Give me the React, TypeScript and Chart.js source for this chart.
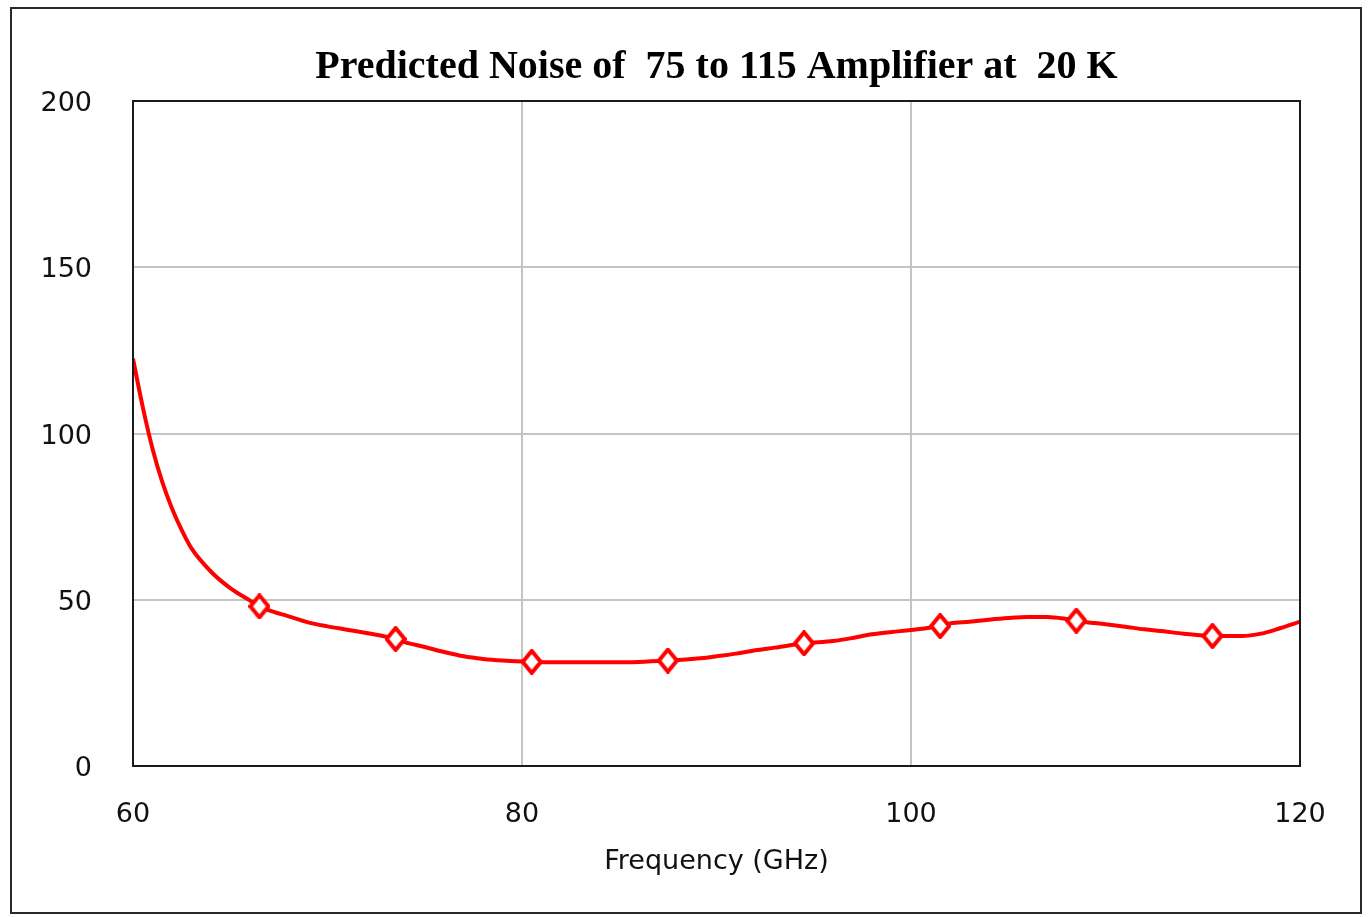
import React, { useEffect, useRef } from "react";
import { Chart, registerables } from "chart.js";

Chart.register(...registerables);

const titleText = "Predicted Noise of  75 to 115 Amplifier at  20 K";
const xAxisTitle = "Frequency (GHz)";
const xTicks = [60, 80, 100, 120];
const yTicks = [0, 50, 100, 150, 200];

// dense curve (GHz, K)
const freq = [
  60, 60.5, 61, 61.5, 62, 62.5, 63, 64, 65, 66, 66.5, 67, 68, 69, 70, 71, 72, 73, 73.5, 74, 75, 76, 77, 78, 79, 80,
  80.5, 82, 84, 86, 87.5, 89, 90, 91, 92, 93, 94.5, 96, 97, 98, 99, 100, 101.5, 102, 103, 104, 105, 106, 107, 108,
  108.5, 110, 111, 112, 113, 114, 115.5, 117, 118, 119, 120,
];
const noise = [
  122.5, 108, 95.5, 85.5, 77.5, 71, 65.5, 58.5, 53.5, 49.8, 48, 46.8, 45, 43.2, 42, 41, 40, 38.9, 38.2, 37.2, 35.8,
  34.3, 33, 32.2, 31.7, 31.4, 31.3, 31.2, 31.2, 31.3, 31.7, 32.3, 33, 33.8, 34.8, 35.6, 36.9, 37.6, 38.5, 39.6, 40.3,
  40.9, 42.1, 42.9, 43.4, 44.0, 44.5, 44.8, 44.8, 44.2, 43.7, 42.6, 41.9, 41.1, 40.5, 39.8, 39.1, 39.1, 39.8, 41.5,
  43.4,
];

// marker points
const markerFreq = [66.5, 73.5, 80.5, 87.5, 94.5, 101.5, 108.5, 115.5];
const markerNoise = [48, 38.2, 31.3, 31.7, 36.9, 42.1, 43.7, 39.1];

const PLOT_LEFT = 133;
const PLOT_TOP = 101;
const PLOT_RIGHT = 1300;
const PLOT_BOTTOM = 766;
const W = 1370;
const H = 917;

function makeDiamond(): HTMLCanvasElement {
  const c = document.createElement("canvas");
  const w = 22;
  const h = 26;
  c.width = w;
  c.height = h;
  const ctx = c.getContext("2d")!;
  ctx.beginPath();
  ctx.moveTo(w / 2, 2);
  ctx.lineTo(w - 2, h / 2);
  ctx.lineTo(w / 2, h - 2);
  ctx.lineTo(2, h / 2);
  ctx.closePath();
  ctx.fillStyle = "#ffffff";
  ctx.fill();
  ctx.strokeStyle = "#ff0000";
  ctx.lineWidth = 4;
  ctx.lineJoin = "miter";
  ctx.stroke();
  return c;
}

const framePlugin = {
  id: "framePlugin",
  beforeDraw(chart: any) {
    const ctx = chart.ctx;
    ctx.save();
    ctx.fillStyle = "#ffffff";
    ctx.fillRect(0, 0, chart.width, chart.height);
    ctx.restore();
  },
  afterDraw(chart: any) {
    const ctx = chart.ctx;
    const a = chart.chartArea;
    ctx.save();
    ctx.strokeStyle = "#2a2a2a";
    ctx.lineWidth = 2;
    ctx.strokeRect(11, 8, 1350, 905);
    ctx.strokeStyle = "#1a1a1a";
    ctx.lineWidth = 2;
    ctx.strokeRect(a.left, a.top, a.right - a.left, a.bottom - a.top);
    ctx.fillStyle = "#000000";
    ctx.font = "bold 40px 'Liberation Serif', 'Times New Roman', serif";
    ctx.textAlign = "center";
    ctx.textBaseline = "middle";
    ctx.fillText(titleText, (a.left + a.right) / 2, 68);
    ctx.restore();
  },
};

export default function App() {
  const ref = useRef<HTMLCanvasElement | null>(null);

  useEffect(() => {
    if (!ref.current) return;
    const lineData = freq.map((f, i) => ({ x: f, y: noise[i] }));
    const markerData = markerFreq.map((f, i) => ({ x: f, y: markerNoise[i] }));
    const tickFont = { family: "'DejaVu Sans', sans-serif", size: 27 };
    const diamond = makeDiamond();
    const chart = new Chart(ref.current, {
      type: "line",
      data: {
        datasets: [
          {
            label: "markers",
            data: markerData,
            showLine: false,
            pointStyle: diamond,
            pointRadius: 11,
            borderColor: "#ff0000",
            order: 0,
          },
          {
            label: "noise",
            data: lineData,
            borderColor: "#ff0000",
            borderWidth: 4,
            pointRadius: 0,
            cubicInterpolationMode: "monotone",
            fill: false,
            order: 1,
          },
        ],
      },
      options: {
        responsive: false,
        animation: false,
        layout: { padding: { top: PLOT_TOP, right: W - PLOT_RIGHT, bottom: 0, left: 0 } },
        plugins: {
          legend: { display: false },
          title: { display: false },
          tooltip: { enabled: false },
        },
        scales: {
          x: {
            type: "linear",
            min: 60,
            max: 120,
            afterBuildTicks: (scale: any) => {
              scale.ticks = xTicks.map((v) => ({ value: v }));
            },
            afterFit: (scale: any) => {
              scale.height = H - PLOT_BOTTOM;
            },
            grid: { color: "#c4c4c4", lineWidth: 2, drawTicks: false },
            border: { display: false },
            ticks: {
              font: tickFont,
              color: "#111111",
              padding: 33,
              maxRotation: 0,
            },
            title: {
              display: true,
              text: xAxisTitle,
              font: tickFont,
              color: "#111111",
              padding: { top: 0, bottom: 39 },
            },
          },
          y: {
            type: "linear",
            min: 0,
            max: 200,
            afterBuildTicks: (scale: any) => {
              scale.ticks = yTicks.map((v) => ({ value: v }));
            },
            afterFit: (scale: any) => {
              scale.width = PLOT_LEFT;
            },
            grid: { color: "#c4c4c4", lineWidth: 2, drawTicks: false },
            border: { display: false },
            ticks: {
              font: tickFont,
              color: "#111111",
              padding: 41,
              labelOffset: 3,
            },
          },
        },
      },
      plugins: [framePlugin],
    } as any);
    return () => chart.destroy();
  }, []);

  return (
    <div style={{ position: "absolute", left: 0, top: 0, width: W, height: H, background: "#fff" }}>
      <canvas ref={ref} width={W} height={H} style={{ width: W, height: H, display: "block" }} />
    </div>
  );
}
